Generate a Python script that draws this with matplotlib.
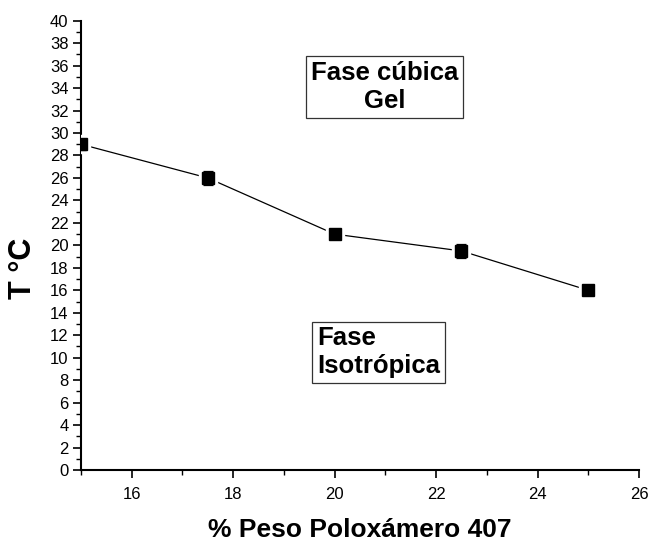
import matplotlib
matplotlib.use("Agg")
import matplotlib.pyplot as plt
from matplotlib.ticker import MultipleLocator

plt.rcParams['font.family'] = ['Liberation Sans', 'DejaVu Sans']

poloxamer = [15, 17.5, 20, 22.5, 25]
temperature = [29, 26, 21, 19.5, 16]
temp_err = [0.5, 0.6, 0.3, 0.6, 0.3]

x_ticks = [16, 18, 20, 22, 24, 26]
y_ticks = list(range(0, 41, 2))

fig = plt.figure(figsize=(6.49, 5.41), dpi=100)
ax = fig.add_axes([81/649, 1 - 470/541, 558/649, (470 - 20.7)/541])

ax.plot(poloxamer, temperature, color='black', lw=0.9, zorder=2)
# white halo around markers to mimic line gaps
ax.plot(poloxamer, temperature, ls='none', marker='s', ms=12.5, color='white',
        mec='white', zorder=3)
ax.errorbar(poloxamer, temperature, yerr=temp_err, fmt='s', ms=8,
            color='black', ecolor='black', elinewidth=0.9, capsize=3.5,
            capthick=0.9, zorder=4)

ax.set_xlim(15, 26)
ax.set_ylim(0, 40)
ax.set_xticks(x_ticks)
ax.set_yticks(y_ticks)
ax.xaxis.set_minor_locator(MultipleLocator(1))
ax.yaxis.set_minor_locator(MultipleLocator(1))

for s in ['top', 'right']:
    ax.spines[s].set_visible(False)
for s in ['left', 'bottom']:
    ax.spines[s].set_linewidth(1.5)

ax.tick_params(axis='both', which='major', direction='out', length=6,
               width=1.2, labelsize=12, pad=3)
ax.tick_params(axis='both', which='minor', direction='out', length=3.5,
               width=1.0)
ax.tick_params(axis='x', which='major', pad=6)

ax.set_xlabel('% Peso Poloxámero 407', fontsize=19, fontweight='bold', labelpad=12)
ax.set_ylabel('T °C', fontsize=22, fontweight='bold')
ax.yaxis.set_label_coords(-0.077, 0.45)

ax.text(20.98, 34.1, 'Fase cúbica\nGel', fontsize=18.5, fontweight='bold',
        ha='center', va='center', multialignment='center', linespacing=1.2,
        bbox=dict(boxstyle='square,pad=0.2', fc='white', ec='#333333', lw=0.9))
ax.text(19.65, 10.5, 'Fase\nIsotrópica', fontsize=18.5, fontweight='bold',
        ha='left', va='center', multialignment='left', linespacing=1.2,
        bbox=dict(boxstyle='square,pad=0.18', fc='white', ec='#333333', lw=0.9))

fig.savefig('out.png', dpi=100)
